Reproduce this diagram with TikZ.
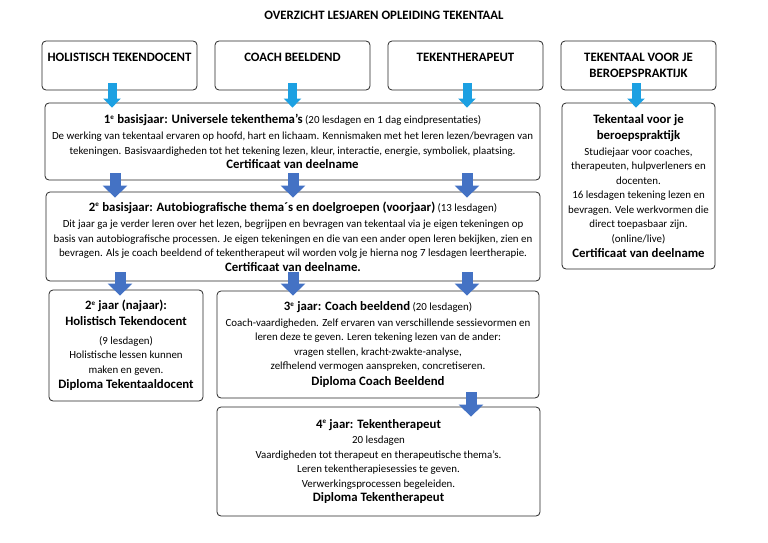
\documentclass[tikz,border=0pt]{standalone}
\usepackage{fontspec}
\setmainfont{Carlito}
\usetikzlibrary{arrows.meta,positioning}

\definecolor{lichtblauw}{RGB}{28,160,226}
\definecolor{donkerblauw}{RGB}{68,114,196}
\newcommand{\kop}[1]{{\bfseries\fontsize{12.8}{14.5}\selectfont #1}}
\newcommand{\ste}{\textsuperscript{\fontsize{7}{8}\selectfont e}}

\begin{document}
\begin{tikzpicture}[x=1pt,y=-1pt,node distance=173pt,
  box/.style={draw=black!85,line width=0.8pt,rounded corners=4pt,inner sep=0pt,
    align=center,font=\fontsize{10.9}{14.5}\selectfont},
  kopbox/.style={box,minimum width=155pt,minimum height=49pt,
    font=\bfseries\fontsize{12.8}{16}\selectfont},
  lichtpijl/.style={draw=lichtblauw,line width=9pt,-{Triangle[width=17pt,length=9pt]}},
  donkerpijl/.style={draw=donkerblauw,line width=11pt,-{Triangle[width=24pt,length=12pt]}}]

  \useasboundingbox (0,0) rectangle (768,543);

  \node[font=\bfseries\fontsize{12.8}{14}\selectfont] (titel) at (384,15)
    {OVERZICHT LESJAREN OPLEIDING TEKENTAAL};

  \node[kopbox,text depth=16pt] (hol) at (119.5,65.5) {HOLISTISCH TEKENDOCENT};
  \node[kopbox,text depth=16pt] (coach) [right of=hol] {COACH BEELDEND};
  \node[kopbox,text depth=16pt] (thera) [right of=coach] {TEKENTHERAPEUT};
  \node[kopbox] (prak) [right of=thera] {TEKENTAAL VOOR JE\\BEROEPSPRAKTIJK};

  \node[box,minimum width=495pt,minimum height=77pt] (basis1) at (292.5,141.5)
    {\kop{1\ste\ basisjaar: Universele tekenthema’s} (20 lesdagen en 1 dag eindpresentaties)\\[2pt]
     De werking van tekentaal ervaren op hoofd, hart en lichaam. Kennismaken met het leren lezen/bevragen van\\
     tekeningen. Basisvaardigheden tot het tekening lezen, kleur, interactie, energie, symboliek, plaatsing.\\
     \kop{Certificaat van deelname}};

  \node[box,minimum width=494pt,minimum height=89pt] (basis2) at (293,236.5)
    {\kop{2\ste\ basisjaar: Autobiografische thema´s en doelgroepen (voorjaar)} (13 lesdagen)\\[2pt]
     Dit jaar ga je verder leren over het lezen, begrijpen en bevragen van tekentaal via je eigen tekeningen op\\
     basis van autobiografische processen. Je eigen tekeningen en die van een ander open leren bekijken, zien en\\
     bevragen. Als je coach beeldend of tekentherapeut wil worden volg je hierna nog 7 lesdagen leertherapie.\\
     \kop{Certificaat van deelname.}};

  \node[box,minimum width=154pt,minimum height=111pt] (jaar2) at (126,345.5)
    {\kop{2\ste\ jaar (najaar):}\\[2pt]
     \kop{Holistisch Tekendocent}\\[4pt]
     (9 lesdagen)\\
     Holistische lessen kunnen\\
     maken en geven.\\[1pt]
     \kop{Diploma Tekentaaldocent}};

  \node[box,minimum width=322pt,minimum height=107pt] (jaar3) at (378,344.5)
    {\kop{3\ste\ jaar: Coach beeldend} (20 lesdagen)\\[1pt]
     Coach-vaardigheden. Zelf ervaren van verschillende sessievormen en\\
     leren deze te geven. Leren tekening lezen van de ander:\\
     vragen stellen, kracht-zwakte-analyse,\\
     zelfhelend vermogen aanspreken, concretiseren.\\[1pt]
     \kop{Diploma Coach Beeldend}};

  \node[box,minimum width=323pt,minimum height=109pt] (jaar4) at (378.5,461.5)
    {\kop{4\ste\ jaar: Tekentherapeut}\\[1pt]
     20 lesdagen\\
     Vaardigheden tot therapeut en therapeutische thema’s.\\
     Leren tekentherapiesessies te geven.\\
     Verwerkingsprocessen begeleiden.\\
     \kop{Diploma Tekentherapeut}};

  \node[box,minimum width=153pt,minimum height=166pt] (praktijk) at (638.5,186)
    {\kop{Tekentaal voor je}\\[2pt]
     \kop{beroepspraktijk}\\[1pt]
     Studiejaar voor coaches,\\
     therapeuten, hulpverleners en\\
     docenten.\\
     16 lesdagen tekening lezen en\\
     bevragen. Vele werkvormen die\\
     direct toepasbaar zijn.\\
     (online/live)\\[1pt]
     \kop{Certificaat van deelname}};

  \foreach \van/\naar/\dx in {hol/basis1/-7.5, coach/basis1/0, thera/basis1/1.5, prak/praktijk/-2.5}
    \draw[lichtpijl] ([xshift=\dx,yshift=7]\van.south) -- ([xshift=\dx,yshift=-5]\van.south |- \naar.north);

  \draw[donkerpijl] ([xshift=-4.5,yshift=7]hol.south |- basis1.south) -- ([xshift=-4.5,yshift=-6]hol.south |- basis2.north);
  \draw[donkerpijl] ([xshift=0.5,yshift=7]coach.south |- basis1.south) -- ([xshift=0.5,yshift=-6]coach.south |- basis2.north);
  \draw[donkerpijl] ([xshift=1.5,yshift=7]thera.south |- basis1.south) -- ([xshift=1.5,yshift=-6]thera.south |- basis2.north);

  \draw[donkerpijl] ([xshift=0.5,yshift=9]hol.south |- basis2.south) -- ([xshift=0.5,yshift=-6]hol.south |- jaar2.north);
  \draw[donkerpijl] ([xshift=0.5,yshift=9]coach.south |- basis2.south) -- ([xshift=0.5,yshift=-5]coach.south |- jaar3.north);
  \draw[donkerpijl] ([xshift=1.5,yshift=9]thera.south |- basis2.south) -- ([xshift=1.5,yshift=-5]thera.south |- jaar3.north);

  \draw[donkerpijl] ([xshift=93,yshift=6]jaar3.south) -- ([xshift=93,yshift=-10]jaar3.south |- jaar4.north);
\end{tikzpicture}
\end{document}
